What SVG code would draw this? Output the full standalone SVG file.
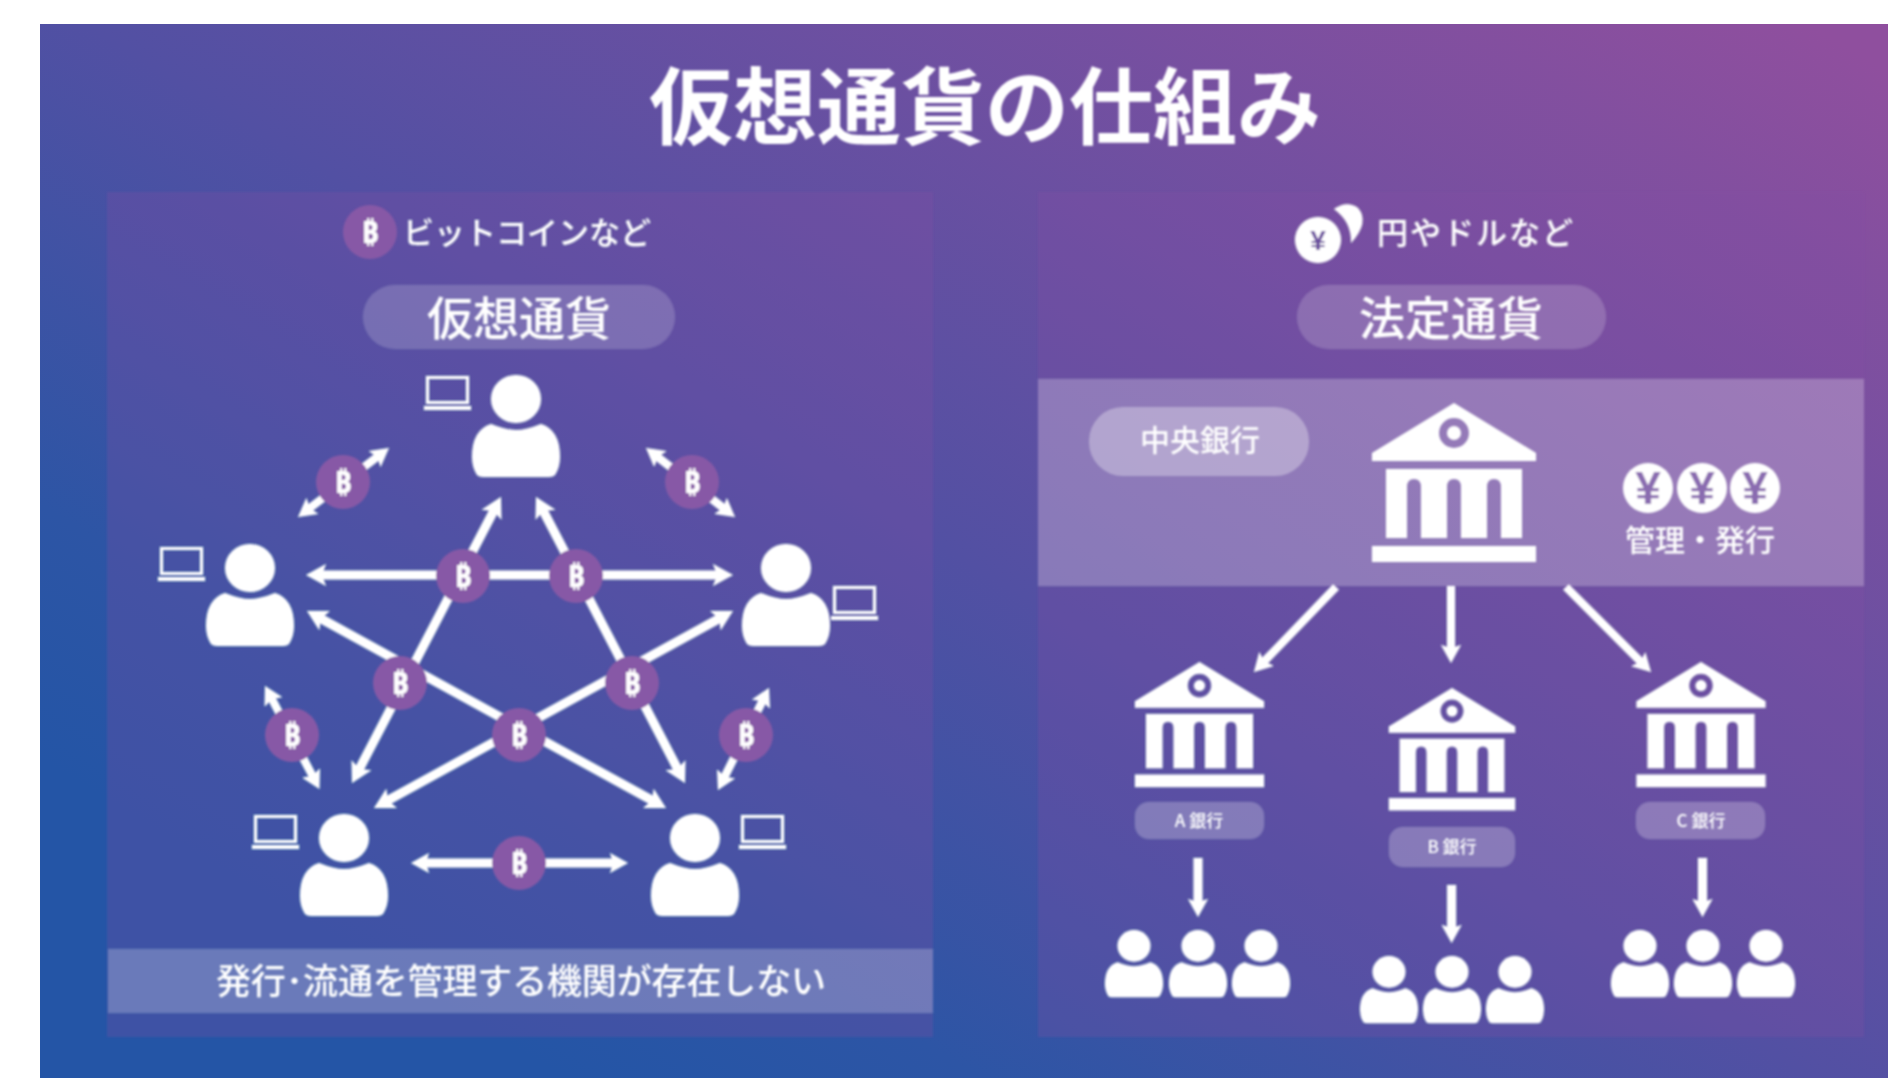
<svg xmlns="http://www.w3.org/2000/svg" width="1888" height="1078" viewBox="0 0 1888 1078">
<style>
text{font-family:"Noto Sans CJK JP","Noto Sans",sans-serif;fill:#fff;text-anchor:middle;dominant-baseline:central;font-weight:500}
.coin{fill:#8759a6}
.btc{font-family:"DejaVu Sans","Noto Sans",sans-serif;font-weight:700;font-size:30px}
.yen{font-family:"Liberation Sans",sans-serif;font-weight:700;fill:#8a6cb0;font-size:46px}
.arrow{fill:none;stroke:#fff;stroke-width:9}
.thin{stroke-width:8}
.pill{fill:#fff;fill-opacity:.18}
.panel{fill:#8048a0;fill-opacity:.28}
.lap{fill:none;stroke:#fff;stroke-width:3}
</style>
<defs>
<linearGradient id="bg" gradientUnits="userSpaceOnUse" x1="600" y1="1100" x2="1405" y2="-222">
<stop offset="0" stop-color="#2455a6"/><stop offset=".14" stop-color="#2d55a5"/><stop offset=".42" stop-color="#5250a3"/><stop offset="1" stop-color="#8f4f9e"/>
</linearGradient>
<filter id="soft" filterUnits="userSpaceOnUse" x="0" y="0" width="1888" height="1078"><feGaussianBlur stdDeviation=".8"/></filter>
<marker id="hl" viewBox="0 -11 20 22" markerWidth="20" markerHeight="22" refX="6" refY="0" orient="auto-start-reverse" markerUnits="userSpaceOnUse"><path d="M0-11L20 0L0 11L4 0Z" fill="#fff"/></marker>
<marker id="hs" viewBox="0 -10 18 20" markerWidth="18" markerHeight="20" refX="5" refY="0" orient="auto-start-reverse" markerUnits="userSpaceOnUse"><path d="M0-10L18 0L0 10L3 0Z" fill="#fff"/></marker>
<g id="person" fill="#fff">
<ellipse cx="0" cy="24" rx="25" ry="24"/>
<path d="M-25 49Q-10 55 0 55Q10 55 25 49Q44 55 44 82Q44 92 39 100Q37 102 33 102H-33Q-37 102-39 100Q-44 92-44 82Q-44 55-25 49Z"/>
</g>
<g id="laptop">
<rect x="3.5" y="1.5" width="40" height="25" class="lap"/>
<path d="M0 30H47V34H0Z" fill="#fff"/>
</g>
<g id="bank" fill="#fff">
<path fill-rule="evenodd" d="M0 0L82 50V58H-82V50ZM-15 30A15 15 0 1 0 15 30A15 15 0 1 0-15 30Z"/>
<ellipse cx="0" cy="30" rx="7" ry="7"/>
<path fill-rule="evenodd" d="M-68 66H68V135H-68ZM-47 135V84Q-47 76-40 76Q-33 76-33 84V135ZM-7 135V84Q-7 76 0 76Q7 76 7 84V135ZM33 135V84Q33 76 40 76Q47 76 47 84V135Z"/>
<rect x="-82" y="143" width="164" height="16"/>
</g>
</defs>
<rect width="1888" height="1078" fill="#fff"/>
<rect id="background" x="40" y="24" width="1848" height="1054" fill="url(#bg)"/>
<g filter="url(#soft)">
<text id="title" x="985" y="101" font-size="84" style="font-weight:700">仮想通貨の仕組み</text>

<g id="panel-virtual">
<rect class="panel" x="107" y="192" width="826" height="845"/>
<circle class="coin" cx="370" cy="232" r="27"/><text class="btc" x="370" y="232">₿</text>
<text x="527" y="230" font-size="31">ビットコインなど</text>
<rect class="pill" x="363" y="285" width="312" height="64" rx="32"/>
<text x="519" y="315" font-size="46">仮想通貨</text>
</g>

<g id="panel-legal">
<rect class="panel" x="1038" y="192" width="826" height="845"/>
<path d="M1334 209Q1347 200 1358 208Q1370 222 1351 243Q1352 222 1334 209Z" fill="#fff"/>
<circle cx="1318" cy="240" r="23" fill="#fff"/>
<text class="yen" x="1318" y="240" style="font-size:28px;fill:#6c4f9f">¥</text>
<text x="1476" y="230" font-size="31" letter-spacing="2">円やドルなど</text>
<rect class="pill" x="1297" y="285" width="309" height="64" rx="32"/>
<text x="1451" y="315" font-size="46">法定通貨</text>
</g>

<g id="band-central">
<rect x="1038" y="379" width="826" height="207" fill="#fff" fill-opacity=".25"/>
</g>

<g id="connectors">
<line class="arrow" x1="320" y1="575" x2="719" y2="575" marker-start="url(#hl)" marker-end="url(#hl)"/>
<line class="arrow" x1="494.5" y1="509.4" x2="358.5" y2="770.6" marker-start="url(#hl)" marker-end="url(#hl)"/>
<line class="arrow" x1="542.5" y1="509.4" x2="678.5" y2="770.6" marker-start="url(#hl)" marker-end="url(#hl)"/>
<line class="arrow" x1="319.3" y1="617.7" x2="653.7" y2="801.3" marker-start="url(#hl)" marker-end="url(#hl)"/>
<line class="arrow" x1="720.7" y1="617.7" x2="386.3" y2="801.3" marker-start="url(#hl)" marker-end="url(#hl)"/>
<line class="arrow" x1="424" y1="863" x2="615" y2="863" marker-start="url(#hs)" marker-end="url(#hs)"/>
<line class="arrow thin" x1="308.4" y1="509.1" x2="378.6" y2="455.9" marker-start="url(#hs)" marker-end="url(#hs)"/>
<line class="arrow thin" x1="656.3" y1="456" x2="724.7" y2="509" marker-start="url(#hs)" marker-end="url(#hs)"/>
<line class="arrow thin" x1="271.1" y1="697.5" x2="313.4" y2="777.5" marker-start="url(#hs)" marker-end="url(#hs)"/>
<line class="arrow thin" x1="763.2" y1="699.6" x2="723.8" y2="778.4" marker-start="url(#hs)" marker-end="url(#hs)"/>
<line class="arrow thin" x1="1336" y1="587" x2="1263" y2="662.6" marker-end="url(#hs)"/>
<line class="arrow thin" x1="1451" y1="586" x2="1451" y2="650" marker-end="url(#hs)"/>
<line class="arrow thin" x1="1566" y1="587" x2="1641.8" y2="662.8" marker-end="url(#hs)"/>
<line class="arrow" x1="1198" y1="858" x2="1198" y2="904" marker-end="url(#hs)"/>
<line class="arrow" x1="1451.6" y1="885" x2="1451.6" y2="930" marker-end="url(#hs)"/>
<line class="arrow" x1="1702.5" y1="858" x2="1702.5" y2="904" marker-end="url(#hs)"/>
</g>

<g id="coins-btc">
<circle class="coin" cx="343" cy="482" r="27"/><text class="btc" x="343" y="482">₿</text>
<circle class="coin" cx="692" cy="482" r="27"/><text class="btc" x="692" y="482">₿</text>
<circle class="coin" cx="463" cy="576" r="27"/><text class="btc" x="463" y="576">₿</text>
<circle class="coin" cx="576" cy="576" r="27"/><text class="btc" x="576" y="576">₿</text>
<circle class="coin" cx="400" cy="683" r="27"/><text class="btc" x="400" y="683">₿</text>
<circle class="coin" cx="632" cy="683" r="27"/><text class="btc" x="632" y="683">₿</text>
<circle class="coin" cx="519" cy="735" r="27"/><text class="btc" x="519" y="735">₿</text>
<circle class="coin" cx="292" cy="735" r="27"/><text class="btc" x="292" y="735">₿</text>
<circle class="coin" cx="746" cy="735" r="27"/><text class="btc" x="746" y="735">₿</text>
<circle class="coin" cx="519" cy="863" r="27"/><text class="btc" x="519" y="863">₿</text>
</g>

<g id="user-top"><use href="#person" x="516" y="375"/><use href="#laptop" x="424" y="376"/></g>
<g id="user-left"><use href="#person" x="250" y="544"/><use href="#laptop" x="158" y="547"/></g>
<g id="user-right"><use href="#person" x="786" y="544"/><use href="#laptop" x="831" y="586"/></g>
<g id="user-bottom-left"><use href="#person" x="344" y="814"/><use href="#laptop" x="252" y="815"/></g>
<g id="user-bottom-right"><use href="#person" x="695" y="814"/><use href="#laptop" x="739" y="815"/></g>

<g id="no-issuer">
<rect x="108" y="949" width="825" height="64" fill="#fff" fill-opacity=".23"/>
<text x="521" y="978" font-size="35" textLength="610" lengthAdjust="spacing">発行･流通を管理する機関が存在しない</text>
</g>

<g id="central-bank">
<rect x="1089" y="407" width="220" height="69" rx="34" fill="#fff" fill-opacity=".32"/>
<text x="1200" y="438" font-size="30">中央銀行</text>
<use href="#bank" transform="translate(1454 403)"/>
<circle cx="1648" cy="488" r="25" fill="#fff"/><text class="yen" x="1648" y="488">¥</text>
<circle cx="1702" cy="488" r="25" fill="#fff"/><text class="yen" x="1702" y="488">¥</text>
<circle cx="1755" cy="488" r="25" fill="#fff"/><text class="yen" x="1755" y="488">¥</text>
<text x="1700" y="538" font-size="30">管理・発行</text>
</g>

<g id="bank-a">
<use href="#bank" transform="translate(1199.5 662) scale(.787)"/>
<rect class="pill" style="fill-opacity:.25" x="1135" y="802" width="129" height="37" rx="14"/>
<text x="1199" y="819" font-size="17">A 銀行</text>
<g><use href="#person" transform="translate(1134 930) scale(.66)"/><use href="#person" transform="translate(1198 930) scale(.66)"/><use href="#person" transform="translate(1261 930) scale(.66)"/></g>
</g>
<g id="bank-b">
<use href="#bank" transform="translate(1452 688) scale(.77)"/>
<rect class="pill" style="fill-opacity:.25" x="1389" y="827" width="126" height="40" rx="14"/>
<text x="1452" y="845" font-size="17">B 銀行</text>
<g><use href="#person" transform="translate(1389 956) scale(.66)"/><use href="#person" transform="translate(1452 956) scale(.66)"/><use href="#person" transform="translate(1515 956) scale(.66)"/></g>
</g>
<g id="bank-c">
<use href="#bank" transform="translate(1701 662) scale(.787)"/>
<rect class="pill" style="fill-opacity:.25" x="1636" y="802" width="129" height="37" rx="14"/>
<text x="1701" y="819" font-size="17">C 銀行</text>
<g><use href="#person" transform="translate(1640 930) scale(.66)"/><use href="#person" transform="translate(1703 930) scale(.66)"/><use href="#person" transform="translate(1766 930) scale(.66)"/></g>
</g>
</g>
</svg>
